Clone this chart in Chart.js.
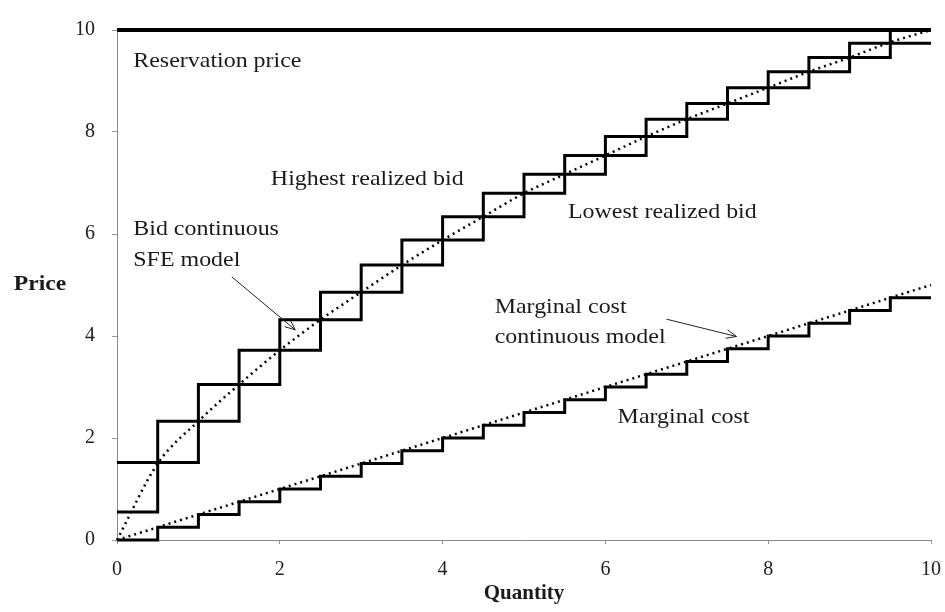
<!DOCTYPE html>
<html><head><meta charset="utf-8">
<script src="https://cdn.jsdelivr.net/npm/chart.js@4/dist/chart.umd.min.js"></script>
<style>html,body{margin:0;padding:0;background:#fff}#wrap{width:945px;height:612px;position:relative}</style>
</head><body><div id="wrap"><canvas id="c" width="945" height="612"></canvas></div>
<script>
// ---- data ----
const quantityLowStarts  = [0, 0.5, 1.5, 2.5, 3.5, 4.5, 5.5, 6.5, 7.5, 8.5, 9.5];
const lowestRealizedBid  = [0.55, 2.33, 3.72, 4.86, 5.88, 6.80, 7.54, 8.25, 8.87, 9.46, 10.0];
const quantityHighStarts = [0, 1, 2, 3, 4, 5, 6, 7, 8, 9];
const highestRealizedBid = [1.52, 3.05, 4.32, 5.39, 6.34, 7.17, 7.91, 8.56, 9.18, 9.74];
const quantityCostStarts = [0, 0.5, 1, 1.5, 2, 2.5, 3, 3.5, 4, 4.5, 5, 5.5, 6, 6.5, 7, 7.5, 8, 8.5, 9, 9.5];
const marginalCost       = [0, 0.25, 0.5, 0.75, 1, 1.25, 1.5, 1.75, 2, 2.25, 2.5, 2.75, 3, 3.25, 3.5, 3.75, 4, 4.25, 4.5, 4.75];
const quantitySFE        = [0, 0.5, 1, 1.5, 2, 2.5, 3, 3.5, 4, 4.5, 5, 5.5, 6, 6.5, 7, 7.5, 8, 8.5, 9, 9.5, 10];
const bidContinuousSFE   = [0, 1.50, 2.33, 3.05, 3.72, 4.32, 4.86, 5.39, 5.88, 6.34, 6.80, 7.17, 7.54, 7.91, 8.25, 8.56, 8.87, 9.18, 9.46, 9.76, 10.0];
const quantityEnds            = [0, 10];
const marginalCostContinuous  = [0, 5];
const reservationPrice        = [10, 10];
const quantityMax = 10;
const axisTicks = [0, 2, 4, 6, 8, 10];

// ---- labels (text + anchor in data units) ----
const labelTexts = ['Reservation price', 'Highest realized bid', 'Lowest realized bid', 'Bid continuous', 'SFE model', 'Marginal cost', 'continuous model', 'Marginal cost'];
const labelAnchors = [[0.2, 9.39], [1.89, 7.06], [5.54, 6.43], [0.2, 6.08], [0.2, 5.49], [4.64, 4.55], [4.64, 3.98], [6.15, 2.41]];
const arrowAnchors = [[[1.41, 5.16], [2.19, 4.12]], [[6.75, 4.33], [7.61, 3.99]]];

function steps(xs, ys, end) {
  const pts = xs.map((x, i) => ({x: x, y: ys[i]}));
  pts.push({x: end, y: ys[ys.length - 1]});
  return pts;
}
function pairs(xs, ys) { return xs.map((x, i) => ({x: x, y: ys[i]})); }

const SERIF = '"Liberation Serif", "Times New Roman", serif';

const annotationPlugin = {
  id: 'annot',
  afterDatasetsDraw(chart) {
    const ctx = chart.ctx, xs = chart.scales.x, ys = chart.scales.y;
    ctx.save();
    ctx.fillStyle = '#1a1a1a';
    ctx.font = '21px ' + SERIF;
    ctx.textBaseline = 'middle';
    ctx.textAlign = 'left';
    labelTexts.forEach((t, i) => {
      const px = xs.getPixelForValue(labelAnchors[i][0]);
      const py = ys.getPixelForValue(labelAnchors[i][1]);
      ctx.save();
      ctx.translate(px, py);
      ctx.scale(1.14, 1);
      ctx.fillText(t, 0, 0);
      ctx.restore();
    });
    // arrows
    ctx.strokeStyle = '#222';
    ctx.lineWidth = 1;
    arrowAnchors.forEach(a => {
      const x1 = xs.getPixelForValue(a[0][0]), y1 = ys.getPixelForValue(a[0][1]);
      const x2 = xs.getPixelForValue(a[1][0]), y2 = ys.getPixelForValue(a[1][1]);
      ctx.beginPath(); ctx.moveTo(x1, y1); ctx.lineTo(x2, y2); ctx.stroke();
      const ang = Math.atan2(y2 - y1, x2 - x1), L = 11, w = 0.4;
      ctx.beginPath();
      ctx.moveTo(x2 - L * Math.cos(ang - w), y2 - L * Math.sin(ang - w));
      ctx.lineTo(x2, y2);
      ctx.lineTo(x2 - L * Math.cos(ang + w), y2 - L * Math.sin(ang + w));
      ctx.stroke();
    });
    // y-axis title (horizontal)
    ctx.font = 'bold 20px ' + SERIF;
    ctx.textAlign = 'center';
    ctx.save();
    ctx.translate(40, (chart.chartArea.top + chart.chartArea.bottom) / 2 + 0);
    ctx.scale(1.18, 1);
    ctx.fillText('Price', 0, 0);
    ctx.restore();
    ctx.restore();
  }
};

const stepStyle = {borderColor: '#000', borderWidth: 3, pointRadius: 0, fill: false, stepped: 'before', clip: 4};
const dotStyle = {borderColor: '#000', borderWidth: 2.5, borderDash: [2, 4], pointRadius: 0, clip: 4};

new Chart(document.getElementById('c'), {
  type: 'line',
  data: {
    datasets: [
      {label: 'Reservation price', data: pairs(quantityEnds, reservationPrice), borderColor: '#000', borderWidth: 4, pointRadius: 0, clip: 6},
      Object.assign({label: 'Lowest realized bid', data: steps(quantityLowStarts, lowestRealizedBid, quantityMax)}, stepStyle),
      Object.assign({label: 'Highest realized bid', data: steps(quantityHighStarts, highestRealizedBid, quantityMax)}, stepStyle),
      Object.assign({label: 'Marginal cost', data: steps(quantityCostStarts, marginalCost, quantityMax)}, stepStyle),
      Object.assign({label: 'Bid continuous SFE model', data: pairs(quantitySFE, bidContinuousSFE), cubicInterpolationMode: 'monotone'}, dotStyle),
      Object.assign({label: 'Marginal cost continuous model', data: pairs(quantityEnds, marginalCostContinuous)}, dotStyle)
    ]
  },
  options: {
    responsive: false,
    animation: false,
    devicePixelRatio: 1,
    layout: {padding: {top: 30, right: 14, left: 0, bottom: 0}},
    plugins: {legend: {display: false}, tooltip: {enabled: false}},
    scales: {
      x: {
        type: 'linear', min: 0, max: 10,
        afterBuildTicks: s => { s.ticks = axisTicks.map(v => ({value: v})); },
        afterFit: s => { s.height = 72; s.paddingLeft = 0; s.paddingRight = 0; },
        ticks: {color: '#222', font: {family: SERIF, size: 20}, padding: 14, maxRotation: 0},
        grid: {drawOnChartArea: false, drawTicks: true, tickLength: 4, color: '#999'},
        border: {color: '#888', width: 1},
        title: {display: true, text: 'Quantity', color: '#1a1a1a', font: {family: SERIF, size: 21, weight: 'bold'}, padding: {top: 0, bottom: 6}}
      },
      y: {
        type: 'linear', min: 0, max: 10,
        afterBuildTicks: s => { s.ticks = axisTicks.map(v => ({value: v})); },
        afterFit: s => { s.width = 117; s.paddingTop = 0; s.paddingBottom = 0; },
        ticks: {color: '#222', font: {family: SERIF, size: 20}, padding: 17},
        grid: {drawOnChartArea: false, drawTicks: true, tickLength: 5, color: '#999'},
        border: {color: '#888', width: 1}
      }
    }
  },
  plugins: [annotationPlugin]
});
</script>
</body></html>
